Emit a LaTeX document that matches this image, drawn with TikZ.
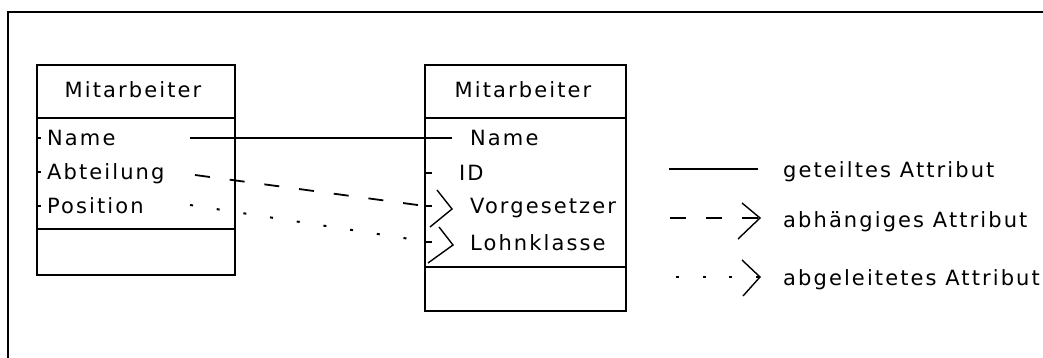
\documentclass[tikz,border=0pt]{standalone}
\usepackage{fontspec}
\newfontfamily\umlfont{DejaVu Sans}[LetterSpace=10]
\begin{document}
\begin{tikzpicture}[x=1pt,y=-1pt,
  box/.style={draw, line width=2pt, inner sep=0pt, anchor=north west},
  lbl/.style={inner sep=0pt, anchor=base west, font=\umlfont\fontsize{21}{25}\selectfont},
  ttl/.style={inner sep=0pt, anchor=base, font=\umlfont\fontsize{21}{25}\selectfont},
  shared/.style={line width=1.8pt},
  dependent/.style={line width=1.8pt, dash pattern=on 15pt off 20pt},
  derived/.style={line width=2pt, dash pattern=on 3pt off 24pt},
  chevron/.style={line width=1.4pt},
  tick/.style={line width=1.8pt},
  frame/.style={line width=2.5pt}]

\useasboundingbox (0,0) rectangle (1043,358);

% outer frame (runs past the right and bottom edges)
\draw[frame] (8,380) -- (8,12) -- (1060,12);

% class on the left
\node[box, minimum width=198pt, minimum height=53pt]  (lhead)  at (36,64)  {};
\node[box, minimum width=198pt, minimum height=111pt] (lattrs) at (36,117) {};
\node[box, minimum width=198pt, minimum height=46pt]  (lops)   at (36,228) {};
\node[ttl] (ltitle) at (133,98) {Mitarbeiter};
\node[lbl] (lname) at (47,145.5) {Name};
\node[lbl] (ldept) at (47,179.5) {Abteilung};
\node[lbl] (lpos)  at (47,213.5) {Position};
\draw[tick] (36,138) -- (41,138);
\draw[tick] (36,172) -- (41,172);
\draw[tick] (36,206) -- (41,206);

% class on the right
\node[box, minimum width=201pt, minimum height=53pt]  (rhead)  at (424,64)  {};
\node[box, minimum width=201pt, minimum height=149pt] (rattrs) at (424,117) {};
\node[box, minimum width=201pt, minimum height=44pt]  (rops)   at (424,266) {};
\node[ttl] (rtitle) at (523,98) {Mitarbeiter};
\node[lbl] (rname) at (470,145.5) {Name};
\node[lbl] (rid)   at (459,181)   {ID};
\node[lbl] (rsup)  at (470,213.5) {Vorgesetzer};
\node[lbl] (rpay)  at (470,250)   {Lohnklasse};
\draw[tick] (424,173) -- (432,173);
\draw[tick] (424,206) -- (432,206);
\draw[tick] (424,242) -- (432,242);

% connectors between the attributes
\coordinate (nameFrom) at (190,138);
\coordinate (nameTo)   at (452,138);
\draw[shared] (nameFrom) -- (nameTo);

\coordinate (depFrom) at (195,175);
\coordinate (depTo)   at (425,206);
\draw[dependent] (depFrom) -- (depTo);
\draw[chevron] (437,190) -- (452,209) -- (430,227);

\coordinate (derFrom) at (190,205);
\coordinate (derTo)   at (410,239);
\draw[derived] (derFrom) -- (derTo);
\draw[chevron] (439,227) -- (453,245) -- (428,263);

% legend
\coordinate (lgA1) at (669,169);
\coordinate (lgA2) at (758,169);
\draw[shared] (lgA1) -- (lgA2);
\node[lbl] (lgAtext) at (783,178) {geteiltes Attribut};

\coordinate (lgB1) at (670,218);
\coordinate (lgB2) at (760,218);
\draw[line width=1.8pt, dash pattern=on 16pt off 20pt] (lgB1) -- (lgB2);
\draw[chevron] (742,203) -- (lgB2) -- (738,239);
\node[lbl] (lgBtext) at (783,227) {abhängiges Attribut};

\coordinate (lgC1) at (676,277);
\coordinate (lgC2) at (760,277);
\draw[derived, dash pattern=on 3pt off 23.5pt] (lgC1) -- (lgC2);
\draw[chevron] (742,260) -- (lgC2) -- (743,296);
\node[lbl] (lgCtext) at (783,285) {abgeleitetes Attribut};
\end{tikzpicture}
\end{document}
